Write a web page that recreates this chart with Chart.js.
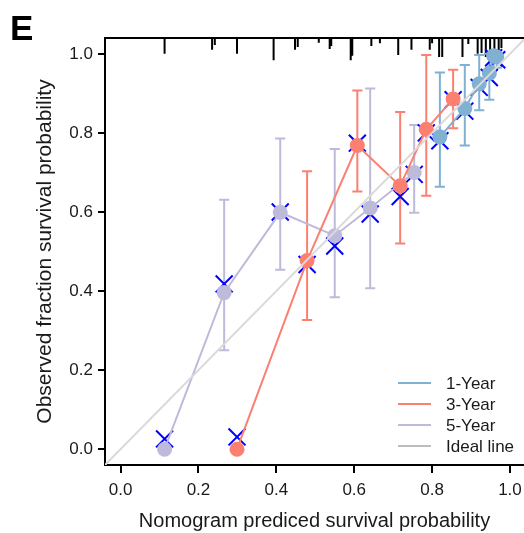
<!DOCTYPE html>
<html>
<head>
<meta charset="utf-8">
<script src="https://cdn.jsdelivr.net/npm/chart.js@4.4.1/dist/chart.umd.min.js"></script>
<style>
  html, body { margin: 0; padding: 0; background: #fff; overflow: hidden; }
</style>
</head>
<body>
<canvas id="myChart" width="524" height="533"></canvas>
<script>
// calibration points: predicted (x), observed (y), CI, and bias-corrected "X" marks
const oneYearX  = [0.820, 0.884, 0.921, 0.947, 0.958, 0.966];
const oneYearY  = [0.790, 0.862, 0.924, 0.951, 0.995, 0.992];
const oneYearLo = [0.664, 0.768, 0.857, 0.884, 0.965, 0.965];
const oneYearHi = [0.953, 0.972, 0.997, 1.000, 1.000, 1.000];
const oneYearBc = [0.780, 0.855, 0.915, 0.940, 0.990, 0.985];

const threeYearX  = [0.299, 0.479, 0.608, 0.718, 0.785, 0.854];
const threeYearY  = [0.000, 0.477, 0.768, 0.666, 0.809, 0.886];
const threeYearLo = [null, 0.327, 0.652, 0.520, 0.641, 0.812];
const threeYearHi = [null, 0.703, 0.907, 0.853, 0.997, 0.960];
const threeYearBc = [0.031, 0.467, 0.774, 0.639, 0.800, 0.884];

const fiveYearX  = [0.113, 0.266, 0.410, 0.550, 0.641, 0.754];
const fiveYearY  = [0.000, 0.396, 0.599, 0.540, 0.610, 0.700];
const fiveYearLo = [null, 0.250, 0.454, 0.384, 0.407, 0.598];
const fiveYearHi = [null, 0.631, 0.786, 0.759, 0.912, 0.820];
const fiveYearBc = [0.026, 0.418, 0.600, 0.514, 0.595, 0.695];

// rug of predicted values along the top edge (height in y units)
const rugX = [0.113, 0.235, 0.242, 0.299, 0.393, 0.448, 0.455, 0.509, 0.537, 0.541, 0.591, 0.595, 0.644, 0.666,
              0.713, 0.747, 0.794, 0.800, 0.818, 0.826, 0.878, 0.893, 0.917, 0.927, 0.938, 0.949, 0.960, 0.971, 0.978];
const rugH = [0.040, 0.030, 0.018, 0.040, 0.056, 0.030, 0.023, 0.012, 0.028, 0.020, 0.056, 0.045, 0.020, 0.013,
              0.043, 0.030, 0.030, 0.013, 0.048, 0.048, 0.048, 0.015, 0.040, 0.038, 0.048, 0.045, 0.048, 0.038, 0.025];

const xTicks = [0, 0.2, 0.4, 0.6, 0.8, 1.0];
const yTicks = [0, 0.2, 0.4, 0.6, 0.8, 1.0];
const legendLabels = ['1-Year', '3-Year', '5-Year', 'Ideal line'];

const colors = {
  '1-Year': '#80B1D3',
  '3-Year': '#FB8072',
  '5-Year': '#BEBADA'
};
const idealColor = '#DADADA';
const legendIdealColor = '#BDBDBD';

const Y_MIN = -0.04, Y_MAX = 1.04;
const CAP = 0.013;
const FONT = '"Liberation Sans", Arial, Helvetica, sans-serif';

function pts(xs, ys) {
  return xs.map((x, i) => ({ x: x, y: ys[i] }));
}

function errorBars(xs, lo, hi) {
  const out = [];
  xs.forEach((x, i) => {
    if (lo[i] == null) return;
    out.push({ x: x, y: lo[i] }, { x: x, y: hi[i] }, { x: x, y: null });
    out.push({ x: x - CAP, y: lo[i] }, { x: x + CAP, y: lo[i] }, { x: x, y: null });
    out.push({ x: x - CAP, y: hi[i] }, { x: x + CAP, y: hi[i] }, { x: x, y: null });
  });
  return out;
}

function rugLines() {
  const out = [];
  rugX.forEach((x, i) => {
    out.push({ x: x, y: Y_MAX }, { x: x, y: Y_MAX - rugH[i] }, { x: x, y: null });
  });
  return out;
}

const series = [
  { name: '1-Year', x: oneYearX, y: oneYearY, lo: oneYearLo, hi: oneYearHi, bc: oneYearBc, order: 1 },
  { name: '3-Year', x: threeYearX, y: threeYearY, lo: threeYearLo, hi: threeYearHi, bc: threeYearBc, order: 2 },
  { name: '5-Year', x: fiveYearX, y: fiveYearY, lo: fiveYearLo, hi: fiveYearHi, bc: fiveYearBc, order: 3 }
];

const datasets = [];

series.forEach(s => {
  datasets.push({
    label: s.name,
    data: pts(s.x, s.y),
    borderColor: colors[s.name],
    backgroundColor: colors[s.name],
    borderWidth: 2,
    pointRadius: 7.5,
    pointBorderWidth: 0,
    order: s.order
  });
  datasets.push({
    label: s.name + ' bias-corrected',
    data: pts(s.x, s.bc),
    showLine: false,
    pointStyle: 'crossRot',
    pointRadius: 12,
    pointBorderWidth: 2,
    pointBorderColor: '#0000FF',
    borderColor: '#0000FF',
    order: 5
  });
  datasets.push({
    label: s.name + ' CI',
    data: errorBars(s.x, s.lo, s.hi),
    borderColor: colors[s.name],
    borderWidth: 2,
    pointRadius: 0,
    spanGaps: false,
    order: 6
  });
});

datasets.push({
  label: 'Ideal line',
  data: [{ x: -0.04, y: -0.04 }, { x: 1.04, y: 1.04 }],
  borderColor: idealColor,
  borderWidth: 2,
  pointRadius: 0,
  order: 0
});

datasets.push({
  label: 'rug',
  data: rugLines(),
  borderColor: '#000',
  borderWidth: 2,
  pointRadius: 0,
  spanGaps: false,
  order: 7
});

const framePlugin = {
  id: 'frame',
  afterDraw(chart) {
    const { ctx, chartArea } = chart;
    ctx.save();
    // top edge of the box
    ctx.strokeStyle = '#000';
    ctx.lineWidth = 2;
    ctx.beginPath();
    ctx.moveTo(chartArea.left - 1, chartArea.top);
    ctx.lineTo(chartArea.right, chartArea.top);
    ctx.stroke();

    // legend inside the bottom-right corner
    ctx.font = '17px ' + FONT;
    ctx.textBaseline = 'middle';
    ctx.textAlign = 'left';
    ctx.fillStyle = '#1a1a1a';
    legendLabels.forEach((lab, i) => {
      const y = chartArea.bottom - 82 + i * 21;
      ctx.strokeStyle = colors[lab] || legendIdealColor;
      ctx.lineWidth = 2;
      ctx.beginPath();
      ctx.moveTo(chartArea.right - 126, y);
      ctx.lineTo(chartArea.right - 93, y);
      ctx.stroke();
      ctx.fillText(lab, chartArea.right - 78, y + 1);
    });

    // panel letter
    ctx.font = 'bold 35px ' + FONT;
    ctx.textBaseline = 'alphabetic';
    ctx.fillStyle = '#000';
    ctx.fillText('E', 10, 40);
    ctx.restore();
  }
};

const ctx = document.getElementById('myChart').getContext('2d');

new Chart(ctx, {
  type: 'line',
  data: { datasets: datasets },
  plugins: [framePlugin],
  options: {
    responsive: false,
    animation: false,
    layout: { autoPadding: false, padding: { top: 38, left: 0, right: 0, bottom: 0 } },
    plugins: {
      legend: { display: false },
      tooltip: { enabled: false }
    },
    scales: {
      x: {
        type: 'linear',
        min: -0.04,
        max: 1.036,
        afterBuildTicks: axis => { axis.ticks = xTicks.map(v => ({ value: v })); },
        afterFit: axis => {
          axis.height = 68;
          // the plot box runs to the right edge, like the cropped original
          axis.paddingLeft = 0;
          axis.paddingRight = 0;
        },
        grid: { drawOnChartArea: false, drawTicks: true, tickLength: 8, color: '#000', lineWidth: 2 },
        border: { display: true, color: '#000', width: 2 },
        ticks: {
          color: '#1a1a1a',
          padding: 7,
          maxRotation: 0,
          font: { family: FONT, size: 17 },
          callback: v => v.toFixed(1)
        },
        title: {
          display: true,
          text: 'Nomogram prediced survival probability',
          color: '#1a1a1a',
          font: { family: FONT, size: 20 },
          padding: { top: 0, bottom: 0 }
        }
      },
      y: {
        type: 'linear',
        min: Y_MIN,
        max: Y_MAX,
        afterBuildTicks: axis => { axis.ticks = yTicks.map(v => ({ value: v })); },
        afterFit: axis => {
          axis.width = 105;
          axis.paddingTop = 0;
          axis.paddingBottom = 0;
        },
        grid: { drawOnChartArea: false, drawTicks: true, tickLength: 7, color: '#000', lineWidth: 2 },
        border: { display: true, color: '#000', width: 2 },
        ticks: {
          color: '#1a1a1a',
          padding: 5,
          font: { family: FONT, size: 17 },
          callback: v => v.toFixed(1)
        },
        title: {
          display: true,
          text: 'Observed fraction survival probability',
          color: '#1a1a1a',
          font: { family: FONT, size: 21 },
          padding: { top: 33, bottom: 0 }
        }
      }
    }
  }
});
</script>
</body>
</html>
